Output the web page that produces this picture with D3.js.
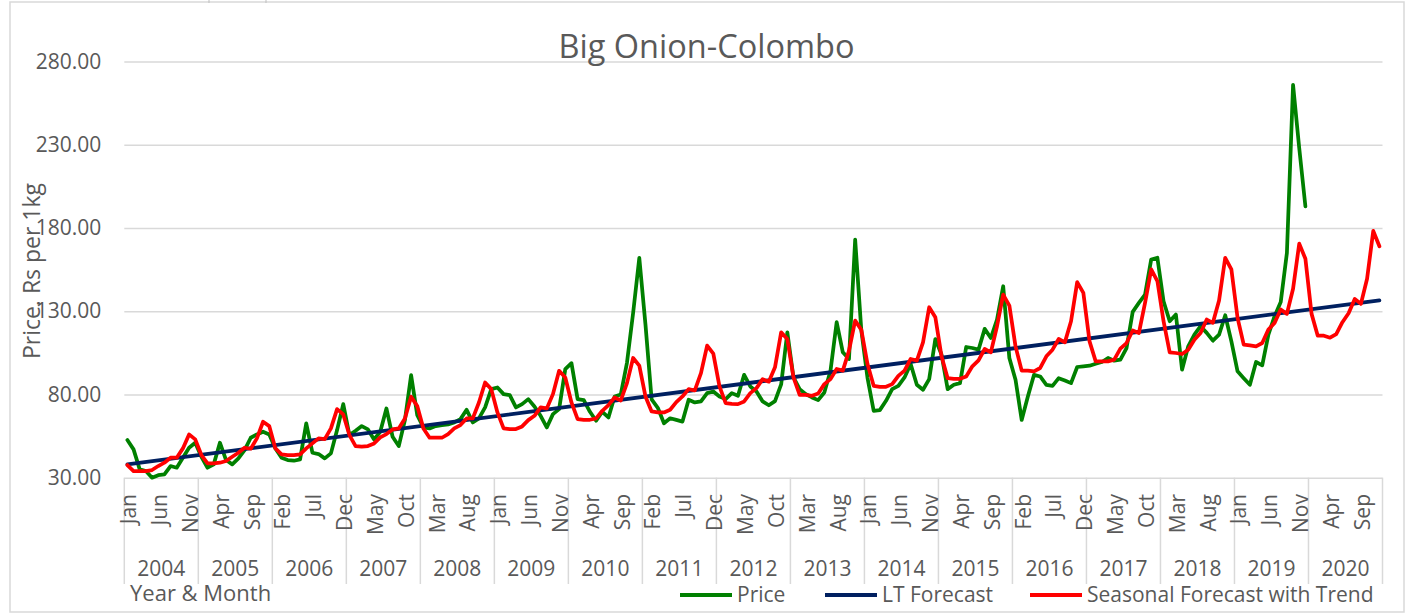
<!DOCTYPE html>
<html>
<head>
<meta charset="utf-8">
<script src="https://cdn.jsdelivr.net/npm/d3@7"></script>
<style>
  html, body { margin: 0; padding: 0; background: #ffffff; }
  svg text { font-family: 'Open Sans', 'Noto Sans', sans-serif; fill: #595959; }
</style>
</head>
<body>
<svg width="1407" height="614"></svg>
<script>
(function() {
  var years = [2004, 2005, 2006, 2007, 2008, 2009, 2010, 2011, 2012,
               2013, 2014, 2015, 2016, 2017, 2018, 2019, 2020]
  var monthNames = ['Jan', 'Feb', 'Mar', 'Apr', 'May', 'Jun',
                    'Jul', 'Aug', 'Sep', 'Oct', 'Nov', 'Dec']

  // monthly retail price, Jan 2004 - Dec 2019
  var price = [
    52.6, 47.0, 35.0, 34.0, 30.0, 31.5, 32.0, 37.0, 36.0, 42.0, 48.0, 51.0,
    42.6, 36.0, 38.0, 51.0, 40.6, 38.0, 41.6, 46.6, 54.0, 56.0, 57.6, 56.0,
    47.6, 42.0, 40.6, 40.2, 41.0, 62.6, 45.0, 44.2, 41.6, 44.6, 58.6, 74.2,
    55.6, 58.2, 61.0, 59.0, 53.0, 57.6, 71.6, 54.6, 49.0, 64.6, 91.6, 67.6,
    60.2, 59.6, 61.0, 61.6, 62.0, 63.2, 65.2, 70.8, 63.2, 65.6, 72.2, 83.2,
    84.2, 80.2, 79.6, 72.2, 74.2, 77.2, 72.8, 67.2, 60.2, 68.2, 71.2, 95.2,
    98.8, 77.2, 76.6, 69.6, 64.2, 69.6, 66.2, 78.8, 80.0, 99.0, 129.0, 162.0,
    122.0, 77.0, 72.0, 62.7, 65.7, 64.7, 63.7, 76.8, 75.2, 75.8, 80.8, 81.8,
    78.8, 77.2, 80.8, 79.2, 91.8, 84.8, 81.8, 75.8, 73.5, 76.0, 86.0, 117.3,
    90.2, 83.2, 80.2, 78.2, 76.6, 81.2, 94.3, 123.4, 105.3, 101.3, 173.0, 118.4,
    90.0, 70.2, 70.6, 76.2, 83.2, 85.2, 90.2, 98.3, 85.8, 82.8, 89.2, 113.3,
    104.0, 83.2, 85.8, 86.8, 108.5, 107.9, 106.9, 119.4, 113.9, 125.0, 145.0, 101.9,
    88.8, 64.7, 78.8, 91.8, 90.8, 85.8, 85.2, 89.8, 88.4, 86.8, 96.5, 96.9,
    97.3, 98.5, 99.5, 101.9, 100.3, 100.9, 107.9, 129.6, 135.0, 140.0, 161.1, 162.1,
    136.0, 124.0, 128.0, 94.9, 108.9, 115.9, 121.0, 117.0, 112.3, 115.9, 127.6, 111.9,
    93.9, 89.8, 85.8, 99.5, 97.5, 116.0, 127.0, 135.5, 165.0, 266.0, 228.0, 193.0
  ]

  // seasonal forecast with trend, Jan 2004 - Dec 2020
  var seasonal = [
    37.6, 34.0, 34.0, 34.0, 34.6, 37.0, 39.0, 42.0, 42.0, 47.6, 56.0, 53.0,
    43.6, 38.6, 38.6, 39.0, 40.0, 42.6, 45.0, 48.0, 47.4, 53.6, 63.6, 61.0,
    47.6, 44.0, 43.6, 43.6, 44.0, 47.6, 50.6, 53.6, 53.2, 59.6, 71.2, 68.0,
    55.6, 49.0, 48.6, 49.0, 50.6, 54.2, 56.2, 59.0, 59.6, 65.6, 78.6, 73.0,
    59.6, 54.0, 54.0, 54.0, 56.2, 59.6, 61.6, 65.6, 65.6, 75.2, 87.2, 83.2,
    69.2, 59.6, 59.2, 59.2, 60.8, 64.6, 67.2, 72.2, 71.6, 80.2, 94.2, 90.2,
    75.2, 65.2, 64.8, 64.8, 65.6, 70.2, 73.6, 78.2, 76.4, 86.8, 101.9, 97.3,
    78.8, 69.8, 69.2, 69.2, 70.8, 75.4, 78.8, 83.2, 82.4, 92.8, 109.3, 104.5,
    84.8, 74.8, 74.4, 74.2, 75.8, 80.8, 83.8, 89.2, 87.7, 96.3, 117.3, 113.3,
    90.2, 79.8, 79.8, 79.2, 80.6, 86.2, 89.2, 95.3, 94.3, 106.3, 124.4, 118.8,
    98.3, 85.2, 84.6, 84.6, 86.2, 91.2, 94.3, 101.3, 100.3, 111.3, 132.4, 126.4,
    102.9, 89.8, 89.4, 89.4, 90.8, 96.9, 100.5, 107.3, 105.3, 121.0, 140.0, 133.4,
    108.9, 94.3, 94.3, 93.9, 95.9, 102.9, 106.9, 113.3, 111.3, 124.0, 147.5, 141.0,
    111.9, 99.9, 99.9, 99.9, 100.9, 107.5, 110.9, 118.4, 116.9, 135.0, 155.1, 148.1,
    124.0, 105.3, 104.9, 104.3, 106.9, 112.9, 116.9, 125.0, 123.0, 136.4, 162.1, 155.1,
    126.0, 109.9, 109.5, 108.9, 110.9, 119.0, 123.0, 131.0, 128.4, 143.5, 170.6, 161.5,
    128.4, 115.3, 115.3, 114.1, 116.3, 123.4, 128.8, 137.4, 134.4, 149.5, 178.2, 169.0
  ]

  // long term (linear) forecast, read at its two ends
  var ltForecast = [
    {year: 2004, month: 'Jan', value: 38.0},
    {year: 2020, month: 'Dec', value: 136.5}
  ]

  var yTicks = [30, 80, 130, 180, 230, 280]

  var legendItems = [
    {name: 'Price', color: '#008000'},
    {name: 'LT Forecast', color: '#002060'},
    {name: 'Seasonal Forecast with Trend', color: '#ff0000'}
  ]

  var left = 124.3, right = 1382.5, top = 61.5, bottom = 477.7
  var grey = '#d9d9d9', textColor = '#595959'

  var keys = []
  years.forEach(function(yr) {
    monthNames.forEach(function(m) { keys.push(yr + '-' + m) })
  })

  var x = d3.scaleBand().domain(keys).range([left, right])
  var xYear = d3.scaleBand().domain(years).range([left, right])
  var y = d3.scaleLinear().domain([30, 280]).range([bottom, top])
  var cx = function(key) { return x(key) + x.bandwidth() / 2 }

  var svg = d3.select('svg')

  // chart frame
  svg.append('rect')
    .attr('x', 10).attr('y', 2)
    .attr('width', 1394).attr('height', 610)
    .attr('fill', 'none')
    .attr('stroke', grey)
    .attr('stroke-width', 1.5)
  ;[209, 266].forEach(function(px) {
    svg.append('line')
      .attr('x1', px).attr('x2', px).attr('y1', 0).attr('y2', 3)
      .attr('stroke', '#bfbfbf')
  })

  // gridlines + y labels
  svg.append('g')
    .attr('transform', 'translate(' + left + ',0)')
    .call(d3.axisLeft(y)
      .tickValues(yTicks)
      .tickFormat(d3.format('.2f'))
      .tickSize(-(right - left))
      .tickPadding(23))
    .call(function(g) { g.select('.domain').remove() })
    .call(function(g) {
      g.selectAll('line').attr('stroke', grey).attr('stroke-width', 1.5)
    })
    .call(function(g) {
      g.selectAll('text')
        .attr('font-size', 21)
        .attr('font-family', "'Open Sans', sans-serif")
        .attr('fill', textColor)
    })

  // year separators on the category axis
  var bounds = years.map(function(yr) { return xYear(yr) }).concat([right])
  svg.append('g').selectAll('line')
    .data(bounds)
    .join('line')
    .attr('x1', function(d) { return d }).attr('x2', function(d) { return d })
    .attr('y1', bottom).attr('y2', 584)
    .attr('stroke', grey)
    .attr('stroke-width', 1.5)

  // month labels, every 5th month
  svg.append('g').selectAll('text')
    .data(keys.filter(function(k, i) { return i % 5 === 0 }))
    .join('text')
    .attr('transform', function(d) {
      return 'translate(' + (cx(d) + 1.5) + ',494) rotate(-90)'
    })
    .attr('text-anchor', 'end')
    .attr('dy', '0.35em')
    .attr('font-size', 21)
    .text(function(d) { return d.split('-')[1] })

  // year labels
  svg.append('g').selectAll('text')
    .data(years)
    .join('text')
    .attr('x', function(d) { return xYear(d) + xYear.bandwidth() / 2 })
    .attr('y', 576)
    .attr('text-anchor', 'middle')
    .attr('font-size', 21)
    .text(function(d) { return d })

  // series
  var line = d3.line()
    .defined(function(d) { return d.value != null })
    .x(function(d) { return cx(d.key) })
    .y(function(d) { return y(d.value) })

  var priceData = price.map(function(v, i) { return {key: keys[i], value: v} })
  var seasonalData = seasonal.map(function(v, i) { return {key: keys[i], value: v} })
  var ltData = ltForecast.map(function(d) {
    return {key: d.year + '-' + d.month, value: d.value}
  })

  ;[[priceData, legendItems[0].color],
    [ltData, legendItems[1].color],
    [seasonalData, legendItems[2].color]].forEach(function(s) {
    svg.append('path')
      .datum(s[0])
      .attr('d', line)
      .attr('fill', 'none')
      .attr('stroke', s[1])
      .attr('stroke-width', 3.75)
      .attr('stroke-linejoin', 'round')
      .attr('stroke-linecap', 'round')
  })

  // titles
  svg.append('text')
    .attr('x', 706.5).attr('y', 58)
    .attr('text-anchor', 'middle')
    .attr('font-size', 32.5)
    .text('Big Onion-Colombo')

  svg.append('text')
    .attr('transform', 'translate(40,271) rotate(-90)')
    .attr('text-anchor', 'middle')
    .attr('font-size', 23)
    .text('Price. Rs per 1kg')

  svg.append('text')
    .attr('x', 130).attr('y', 600.5)
    .attr('font-size', 22)
    .text('Year & Month')

  // legend
  var legendX = [680, 825, 1030]
  var legend = svg.append('g')
  legendItems.forEach(function(item, i) {
    legend.append('line')
      .attr('x1', legendX[i]).attr('x2', legendX[i] + 52)
      .attr('y1', 595).attr('y2', 595)
      .attr('stroke', item.color)
      .attr('stroke-width', 4)
    legend.append('text')
      .attr('x', legendX[i] + 57).attr('y', 595)
      .attr('dy', '0.35em')
      .attr('font-size', 21)
      .text(item.name)
  })
})();
</script>
</body>
</html>
